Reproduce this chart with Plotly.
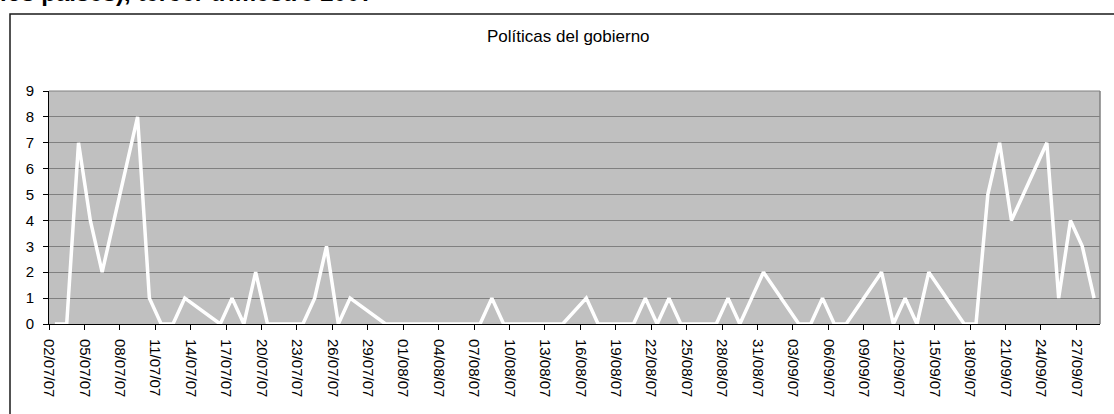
import pandas as pd
import plotly.graph_objects as go

# Daily counts (working days only; 15/08 is a holiday with no record)
dates = [
    "02/07/07", "03/07/07", "04/07/07", "05/07/07", "06/07/07",
    "09/07/07", "10/07/07", "11/07/07", "12/07/07", "13/07/07",
    "16/07/07", "17/07/07", "18/07/07", "19/07/07", "20/07/07",
    "23/07/07", "24/07/07", "25/07/07", "26/07/07", "27/07/07",
    "30/07/07", "31/07/07", "01/08/07", "02/08/07", "03/08/07",
    "06/08/07", "07/08/07", "08/08/07", "09/08/07", "10/08/07",
    "13/08/07", "14/08/07", "16/08/07", "17/08/07",
    "20/08/07", "21/08/07", "22/08/07", "23/08/07", "24/08/07",
    "27/08/07", "28/08/07", "29/08/07", "30/08/07", "31/08/07",
    "03/09/07", "04/09/07", "05/09/07", "06/09/07", "07/09/07",
    "10/09/07", "11/09/07", "12/09/07", "13/09/07", "14/09/07",
    "17/09/07", "18/09/07", "19/09/07", "20/09/07", "21/09/07",
    "24/09/07", "25/09/07", "26/09/07", "27/09/07", "28/09/07",
]
politicas = [
    0, 0, 7, 4, 2,
    8, 1, 0, 0, 1,
    0, 1, 0, 2, 0,
    0, 1, 3, 0, 1,
    0, 0, 0, 0, 0,
    0, 0, 1, 0, 0,
    0, 0, 1, 0,
    0, 1, 0, 1, 0,
    0, 1, 0, 1, 2,
    0, 0, 1, 0, 0,
    2, 0, 1, 0, 2,
    0, 0, 5, 7, 4,
    7, 1, 4, 3, 1,
]
tick_labels = [
    "02/07/07", "05/07/07", "08/07/07", "11/07/07", "14/07/07", "17/07/07",
    "20/07/07", "23/07/07", "26/07/07", "29/07/07", "01/08/07", "04/08/07",
    "07/08/07", "10/08/07", "13/08/07", "16/08/07", "19/08/07", "22/08/07",
    "25/08/07", "28/08/07", "31/08/07", "03/09/07", "06/09/07", "09/09/07",
    "12/09/07", "15/09/07", "18/09/07", "21/09/07", "24/09/07", "27/09/07",
]
y_ticks = list(range(0, 10))

title_text = "Políticas del gobierno"
header_text = "los países), tercer trimestre 2007"

x = pd.to_datetime(dates, format="%d/%m/%y")
half_day = pd.Timedelta(hours=12)
# each day is a category slot; ticks sit on the slot boundaries
tick_pos = pd.to_datetime(tick_labels, format="%d/%m/%y") - half_day
x_range = [x.min() - half_day, x.max() + half_day]

FONT = "Liberation Sans, Arial, sans-serif"

fig = go.Figure()
fig.add_trace(go.Scatter(
    x=x, y=politicas, mode="lines",
    line=dict(color="#ffffff", width=3.5),
    hoverinfo="x+y", showlegend=False,
))

W, H = 1114, 414
ml, mr, mt, mb = 49, 14, 91, 90
pw, ph = W - ml - mr, H - mt - mb


def px_x(v):
    return (v - ml) / pw


def px_y(v):
    return (H - mb - v) / ph


fig.update_layout(
    width=W, height=H,
    margin=dict(l=ml, r=mr, t=mt, b=mb, pad=0),
    paper_bgcolor="#ffffff",
    plot_bgcolor="#c0c0c0",
    font=dict(family=FONT, color="#000000", size=14),
    xaxis=dict(
        type="date", range=x_range,
        tickmode="array", tickvals=tick_pos, ticktext=tick_labels,
        tickangle=90, tickfont=dict(size=15), ticklabelstandoff=6,
        showgrid=False, zeroline=False,
        showline=True, linecolor="#000000", linewidth=1,
        ticks="outside", ticklen=5, tickcolor="#000000",
    ),
    yaxis=dict(
        range=[0, 9], tickmode="array", tickvals=y_ticks,
        tickfont=dict(size=15), ticklabelstandoff=6,
        showgrid=True, gridcolor="#808080", gridwidth=1,
        zeroline=False,
        showline=True, linecolor="#000000", linewidth=1,
        ticks="outside", ticklen=5, tickcolor="#000000",
    ),
    annotations=[
        dict(text=title_text, xref="paper", yref="paper",
             x=px_x(568), y=px_y(37), xanchor="center", yanchor="middle",
             showarrow=False, font=dict(size=17, family=FONT)),
        dict(text="<b>" + header_text + "</b>", xref="paper", yref="paper",
             x=px_x(-2), y=px_y(-7), xanchor="left", yanchor="middle",
             showarrow=False, font=dict(size=24, family=FONT)),
    ],
    shapes=[
        # plot frame, top and right edges
        dict(type="line", xref="x domain", yref="y domain",
             x0=0, x1=1, y0=1, y1=1, line=dict(color="#808080", width=1)),
        dict(type="line", xref="x domain", yref="y domain",
             x0=1, x1=1, y0=0, y1=1, line=dict(color="#808080", width=1.5)),
        # chart area border
        dict(type="rect", xref="paper", yref="paper",
             x0=px_x(10), x1=px_x(W + 20), y0=px_y(H + 20), y1=px_y(14),
             line=dict(color="#1a1a1a", width=1.5), fillcolor="rgba(0,0,0,0)",
             layer="below"),
    ],
)

fig.write_html("out.html")
